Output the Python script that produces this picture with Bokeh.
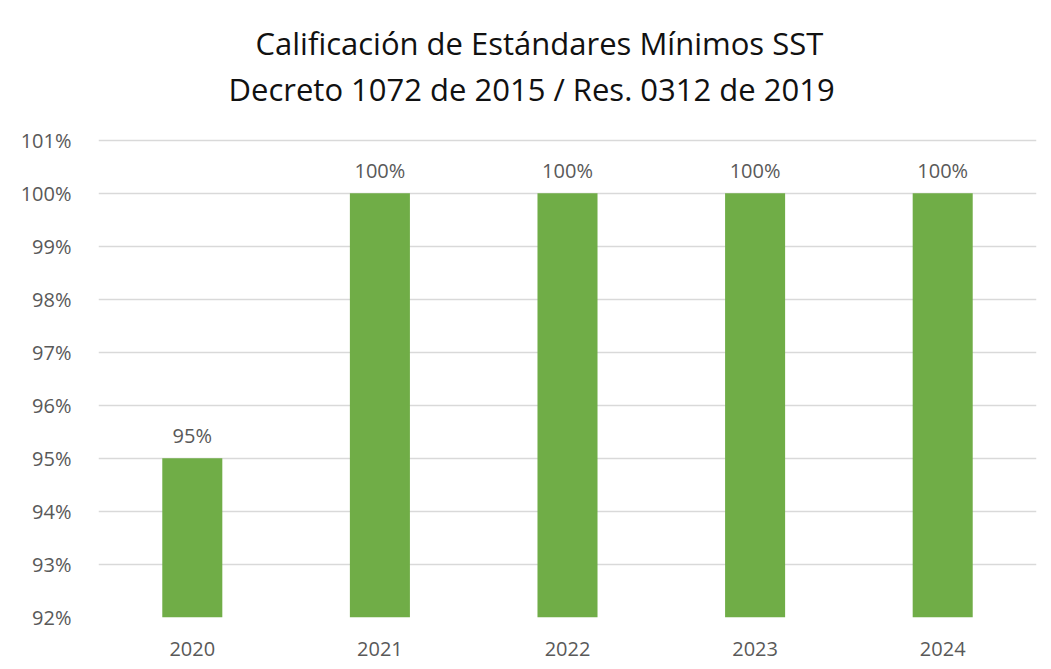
from bokeh.plotting import figure
from bokeh.models import ColumnDataSource, Range1d, FixedTicker, PrintfTickFormatter, Title
from bokeh.core.properties import value
from bokeh.embed import file_html
from bokeh.resources import INLINE

years = ["2020", "2021", "2022", "2023", "2024"]
scores = [95, 100, 100, 100, 100]
labels = ["95%", "100%", "100%", "100%", "100%"]
y_ticks = [92, 93, 94, 95, 96, 97, 98, 99, 100, 101]
title_line1 = "Calificación de Estándares Mínimos SST"
title_line2 = "Decreto 1072 de 2015 / Res. 0312 de 2019"

FONT = "Open Sans"

src = ColumnDataSource(dict(year=years, score=scores, label=labels))

p = figure(x_range=years, y_range=Range1d(92, 101.03), width=1043, height=661,
           output_backend="svg", toolbar_location=None,
           min_border_left=98, min_border_right=7, min_border_bottom=44, min_border_top=138)
p.title = None
p.add_layout(Title(text=" ", text_font=FONT, text_font_size="16px", standoff=0), "above")
p.add_layout(Title(text=title_line2, align="left", offset=130, text_font=FONT, text_font_size="31px",
                   text_font_style="normal", text_color="#111111", standoff=10), "above")
p.add_layout(Title(text=title_line1, align="left", offset=157, text_font=FONT, text_font_size="31px",
                   text_font_style="normal", text_color="#111111", standoff=-6), "above")

p.vbar(x="year", top="score", bottom=92, width=0.32, source=src,
       fill_color="#70AD47", line_color=None)
p.text(x="year", y="score", text="label", source=src, y_offset=-23,
       text_align="center", text_baseline="middle",
       text_font=value(FONT), text_font_size="20px", text_color="#595959")

p.yaxis.ticker = FixedTicker(ticks=y_ticks)
p.yaxis.formatter = PrintfTickFormatter(format="%d%%")
for ax in (p.xaxis, p.yaxis):
    ax.axis_line_color = None
    ax.major_tick_line_color = None
    ax.minor_tick_line_color = None
    ax.major_label_text_font = FONT
    ax.major_label_text_font_size = "20px"
    ax.major_label_text_color = "#595959"
p.yaxis.major_label_standoff = 21
p.xaxis.major_label_standoff = 18

p.xgrid.grid_line_color = None
p.ygrid.grid_line_color = "#d9d9d9"
p.ygrid.grid_line_width = 1.5
p.outline_line_color = None
p.background_fill_color = "white"
p.border_fill_color = "white"

open("out.html", "w").write(file_html(p, INLINE))
